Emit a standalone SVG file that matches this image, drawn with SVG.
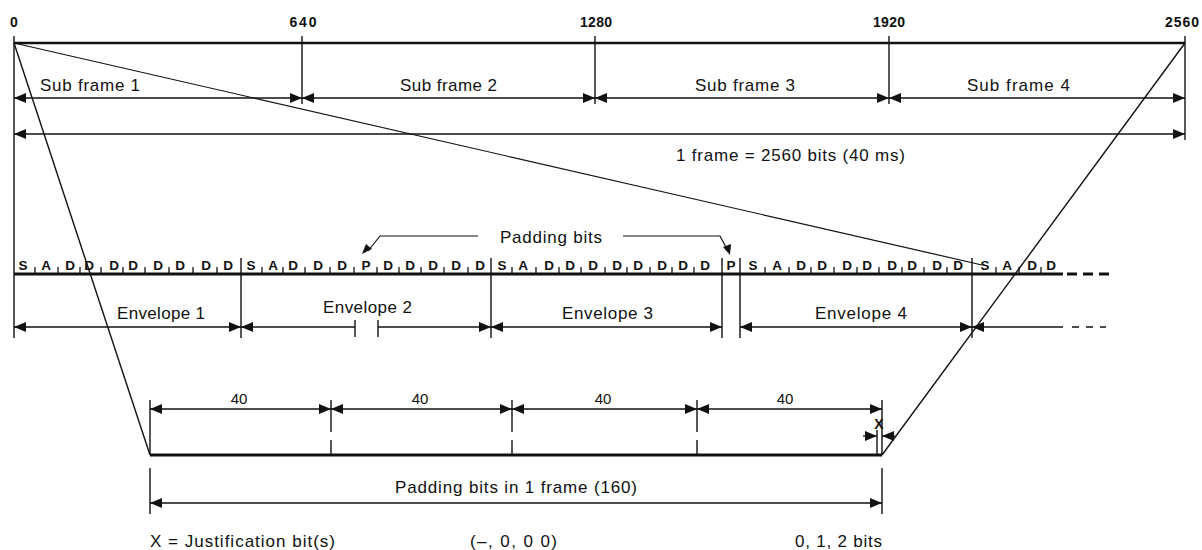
<svg xmlns="http://www.w3.org/2000/svg" width="1202" height="550" viewBox="0 0 1202 550">
<style>
  .ln { stroke:#111; stroke-width:1.4; fill:none; }
  .thk { stroke:#111; stroke-width:3; fill:none; }
  .ar { stroke:#111; stroke-width:1.3; fill:none; marker-start:url(#ah); marker-end:url(#ah); }
  .are { stroke:#111; stroke-width:1.3; fill:none; marker-end:url(#ah); }
  .ars { stroke:#111; stroke-width:1.3; fill:none; marker-start:url(#ah); }
  .t { font-family:"Liberation Sans", Arial, sans-serif; font-size:17px; fill:#111; }
  .n { font-family:"Liberation Sans", Arial, sans-serif; font-size:14px; font-weight:bold; fill:#111; text-anchor:middle; }
  .b { font-family:"Liberation Sans", Arial, sans-serif; font-size:13.5px; font-weight:bold; fill:#111; text-anchor:middle; }
  .tk { stroke:#111; stroke-width:1.3; }
</style>
<defs>
  <marker id="ah" viewBox="0 0 12 10" refX="12" refY="5" markerWidth="12" markerHeight="10" markerUnits="userSpaceOnUse" orient="auto-start-reverse">
    <path d="M0,0 L12,5 L0,10 z" fill="#111"/>
  </marker>
</defs>
<rect width="1202" height="550" fill="#fff"/>

<g id="frame-scale">
  <line class="thk" x1="14" y1="43" x2="1185" y2="43" style="stroke-width:2.5"/>
  <line class="ln" x1="14" y1="36" x2="14" y2="338"/>
  <line class="ln" x1="302" y1="36" x2="302" y2="104"/>
  <line class="ln" x1="595" y1="36" x2="595" y2="104"/>
  <line class="ln" x1="889" y1="36" x2="889" y2="104"/>
  <line class="ln" x1="1185" y1="36" x2="1185" y2="140"/>
  <text class="n" x="14" y="27">0</text>
  <text class="n" x="303" y="27" textLength="27">640</text>
  <text class="n" x="596" y="27" textLength="32">1280</text>
  <text class="n" x="889" y="27" textLength="32">1920</text>
  <text class="n" x="1182" y="27" textLength="34">2560</text>
</g>

<g id="subframes">
  <line class="ar" x1="14" y1="98" x2="302" y2="98"/>
  <line class="ar" x1="302" y1="98" x2="595" y2="98"/>
  <line class="ar" x1="595" y1="98" x2="889" y2="98"/>
  <line class="ar" x1="889" y1="98" x2="1185" y2="98"/>
  <text class="t" x="40" y="91" textLength="100">Sub frame 1</text>
  <text class="t" x="400" y="91" textLength="97">Sub frame 2</text>
  <text class="t" x="695" y="91" textLength="100">Sub frame 3</text>
  <text class="t" x="967" y="91" textLength="103">Sub frame 4</text>
</g>

<g id="one-frame">
  <line class="ar" x1="14" y1="134" x2="1185" y2="134"/>
  <text class="t" x="676" y="161" textLength="229">1 frame = 2560 bits (40 ms)</text>
</g>

<g id="bit-row">
  <line class="thk" x1="14" y1="274" x2="1063" y2="274"/>
  <line class="thk" x1="1067" y1="274" x2="1110" y2="274" style="stroke-dasharray:10 6"/>
  <g class="b">
    <text x="23" y="270">S</text><text x="46" y="270">A</text><text x="70" y="270">D</text><text x="89" y="270">D</text><text x="114" y="270">D</text><text x="133" y="270">D</text><text x="158" y="270">D</text><text x="180" y="270">D</text><text x="206" y="270">D</text><text x="228" y="270">D</text>
    <text x="251" y="270">S</text><text x="273" y="270">A</text><text x="293" y="270">D</text><text x="318" y="270">D</text><text x="342" y="270">D</text><text x="366" y="270">P</text><text x="388" y="270">D</text><text x="410" y="270">D</text><text x="433" y="270">D</text><text x="456" y="270">D</text><text x="480" y="270">D</text>
    <text x="502" y="270">S</text><text x="523" y="270">A</text><text x="549" y="270">D</text><text x="570" y="270">D</text><text x="593" y="270">D</text><text x="617" y="270">D</text><text x="638" y="270">D</text><text x="662" y="270">D</text><text x="683" y="270">D</text><text x="705" y="270">D</text>
    <text x="731" y="270">P</text>
    <text x="753" y="270">S</text><text x="777" y="270">A</text><text x="801" y="270">D</text><text x="822" y="270">D</text><text x="847" y="270">D</text><text x="867" y="270">D</text><text x="892" y="270">D</text><text x="912" y="270">D</text><text x="937" y="270">D</text><text x="958" y="270">D</text>
    <text x="985" y="270">S</text><text x="1007" y="270">A</text><text x="1032" y="270">D</text><text x="1051" y="270">D</text>
  </g>
  <path class="tk" d="M35,267V274 M58,267V274 M80,267V274 M101,267V274 M123,267V274 M145,267V274 M169,267V274 M193,267V274 M217,267V274
    M262,267V274 M283,267V274 M305,267V274 M330,267V274 M354,267V274 M377,267V274 M399,267V274 M421,267V274 M444,267V274 M468,267V274
    M512,267V274 M536,267V274 M559,267V274 M581,267V274 M605,267V274 M627,267V274 M650,267V274 M672,267V274 M694,267V274
    M765,267V274 M789,267V274 M811,267V274 M834,267V274 M857,267V274 M879,267V274 M902,267V274 M924,267V274 M947,267V274
    M996,267V274 M1019,267V274 M1041,267V274"/>
</g>

<g id="padding-label">
  <text class="t" x="500" y="243" textLength="102">Padding bits</text>
  <path class="ln" d="M478,236 H380 L368,251" style="stroke-width:1.2"/>
  <path d="M362,254 L366,244 L372,249 z" fill="#111"/>
  <path class="ln" d="M623,236 H720 L728,251" style="stroke-width:1.2"/>
  <path d="M730,255 L723,247 L731,244 z" fill="#111"/>
</g>

<g id="envelopes">
  <line class="ln" x1="241" y1="258" x2="241" y2="338"/>
  <line class="ln" x1="491" y1="258" x2="491" y2="338"/>
  <line class="ln" x1="722" y1="258" x2="722" y2="338"/>
  <line class="ln" x1="740" y1="258" x2="740" y2="338"/>
  <line class="ln" x1="972" y1="258" x2="972" y2="338"/>
  <line class="ar" x1="14" y1="327" x2="241" y2="327"/>
  <line class="ars" x1="241" y1="327" x2="355" y2="327"/>
  <line class="ln" x1="355" y1="320" x2="355" y2="337"/>
  <line class="ln" x1="378" y1="320" x2="378" y2="337"/>
  <line class="are" x1="378" y1="327" x2="491" y2="327"/>
  <line class="ar" x1="491" y1="327" x2="722" y2="327"/>
  <line class="ar" x1="740" y1="327" x2="972" y2="327"/>
  <line class="ars" x1="972" y1="327" x2="1063" y2="327"/>
  <line class="ln" x1="1072" y1="327" x2="1106" y2="327" style="stroke-dasharray:7 7"/>
  <text class="t" x="117" y="319" textLength="88">Envelope 1</text>
  <text class="t" x="323" y="313" textLength="89">Envelope 2</text>
  <text class="t" x="562" y="319" textLength="91">Envelope 3</text>
  <text class="t" x="815" y="319" textLength="92">Envelope 4</text>
</g>

<g id="padding-summary">
  <line class="thk" x1="150" y1="455" x2="882" y2="455"/>
  <line class="ln" x1="150" y1="400" x2="150" y2="455"/>
  <path class="ln" d="M331,400V432 M331,440V455 M512,400V432 M512,440V455 M697,400V432 M697,440V455"/>
  <line class="ln" x1="882" y1="400" x2="882" y2="455"/>
  <line class="ln" x1="877" y1="430" x2="877" y2="455"/>
  <line class="ar" x1="150" y1="409" x2="331" y2="409"/>
  <line class="ar" x1="331" y1="409" x2="512" y2="409"/>
  <line class="ar" x1="512" y1="409" x2="697" y2="409"/>
  <line class="ar" x1="697" y1="409" x2="882" y2="409"/>
  <text class="t" x="239" y="404" text-anchor="middle" style="font-size:15px">40</text>
  <text class="t" x="420" y="404" text-anchor="middle" style="font-size:15px">40</text>
  <text class="t" x="603" y="404" text-anchor="middle" style="font-size:15px">40</text>
  <text class="t" x="785" y="404" text-anchor="middle" style="font-size:15px">40</text>
  <text class="t" x="879" y="429" text-anchor="middle" style="font-size:14px;font-weight:bold">X</text>
  <line class="are" x1="863" y1="436" x2="877" y2="436"/>
  <line class="are" x1="895" y1="436" x2="882" y2="436"/>
  <line class="ln" x1="150" y1="468" x2="150" y2="514"/>
  <line class="ln" x1="882" y1="468" x2="882" y2="514"/>
  <line class="ar" x1="150" y1="503" x2="882" y2="503"/>
  <text class="t" x="395" y="493" textLength="242">Padding bits in 1 frame (160)</text>
</g>

<g id="notes">
  <text class="t" x="150" y="547" textLength="185">X = Justification bit(s)</text>
  <text class="t" x="470" y="547" textLength="87">(–, 0, 0 0)</text>
  <text class="t" x="795" y="547" textLength="87">0, 1, 2 bits</text>
</g>

<g id="connectors">
  <line class="ln" x1="14" y1="43" x2="150" y2="455"/>
  <line class="ln" x1="14" y1="43" x2="982" y2="265" style="stroke-width:1.2"/>
  <line class="ln" x1="1185" y1="43" x2="882" y2="455"/>
</g>
</svg>
